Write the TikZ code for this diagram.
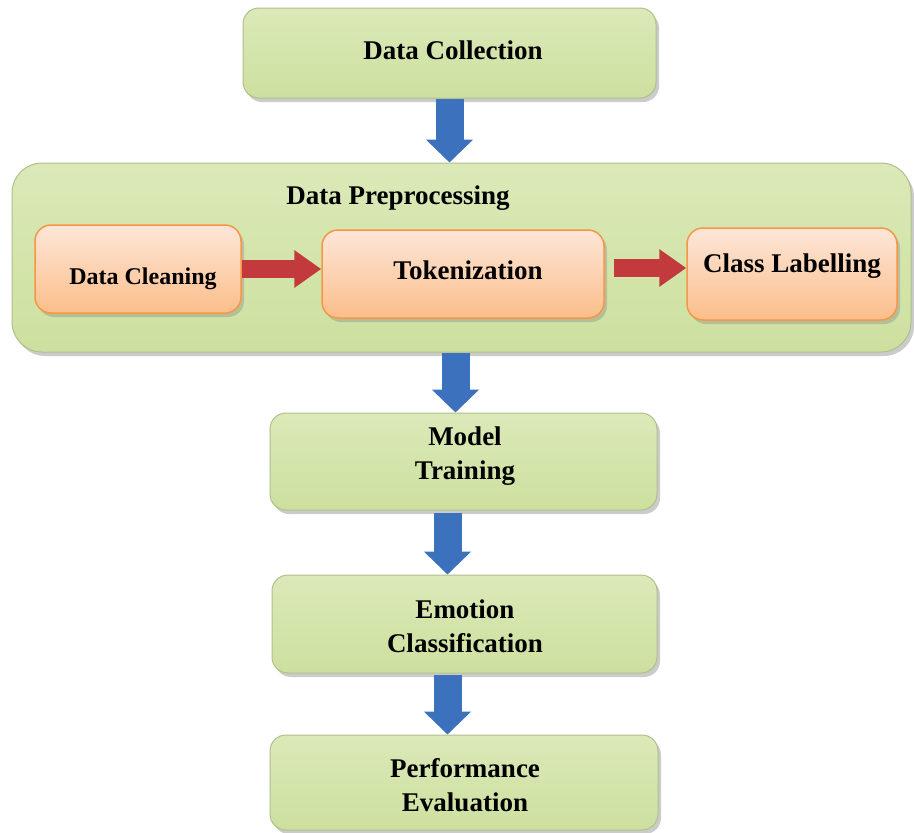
\documentclass[tikz,border=0pt]{standalone}
\usepackage{fontspec}
\setmainfont{Liberation Serif}
\usetikzlibrary{arrows.meta,shadows,calc}
\definecolor{gtop}{HTML}{DBE9B8}
\definecolor{gbot}{HTML}{CDE09F}
\definecolor{gline}{HTML}{AFBF8C}
\definecolor{otop}{HTML}{FDE6D8}
\definecolor{obot}{HTML}{FBBE8A}
\definecolor{oline}{HTML}{F79646}
\definecolor{barrow}{HTML}{3C71BD}
\definecolor{rarrow}{HTML}{C23A3C}
\tikzset{
  gbox/.style={rectangle, rounded corners=16pt, draw=gline, line width=1pt,
    top color=gtop, bottom color=gbot, inner sep=0pt,
    drop shadow={shadow xshift=3pt, shadow yshift=-4pt, fill=black!45, opacity=.45}},
  obox/.style={rectangle, rounded corners=16pt, draw=oline, line width=1.5pt,
    top color=otop, bottom color=obot, inner sep=0pt,
    drop shadow={shadow xshift=3pt, shadow yshift=-4pt, fill=black!45, opacity=.4}},
  txt/.style={font=\fontsize{27}{34}\selectfont\bfseries, align=center, inner sep=0pt},
  stxt/.style={font=\fontsize{24}{30}\selectfont\bfseries, align=center, inner sep=0pt},
  barr/.style={draw=barrow, line width=28pt, -{Triangle[width=46pt,length=23pt,fill=barrow]}},
  rarr/.style={draw=rarrow, line width=18pt, -{Triangle[width=36pt,length=27pt,fill=rarrow]}}
}
\begin{document}
\begin{tikzpicture}[x=1pt,y=-1pt]
\useasboundingbox (0,0) rectangle (914,833);
% boxes
\node[gbox, minimum width=413pt, minimum height=90pt] (dc) at (449.5,53) {};
\node[gbox, rounded corners=30pt, minimum width=899pt, minimum height=189pt] (pre) at (461.5,257.5) {};
\node[obox, minimum width=206pt, minimum height=88pt] (clean) at (138,269) {};
\node[obox, minimum width=282pt, minimum height=88pt] (tok) at (463,274) {};
\node[obox, minimum width=210pt, minimum height=92pt] (cls) at (792,274) {};
\node[gbox, minimum width=387pt, minimum height=97pt] (mt) at (463.5,461.5) {};
\node[gbox, minimum width=385pt, minimum height=98pt] (ec) at (464.5,624) {};
\node[gbox, minimum width=388pt, minimum height=95pt] (pe) at (464,782.5) {};
% texts
\node[txt] (dct) at (453,50) {Data Collection};
\node[txt] (pret) at (398,198) {Data Preprocessing};
\node[stxt] (cleant) at (143,279) {Data Cleaning};
\node[txt] (tokt) at (468,270) {Tokenization};
\node[txt] (clst) at (792,266) {Class Labelling};
\node[txt] (mtt) at (465,456) {Model\\Training};
\node[txt] (ect) at (465,626) {Emotion\\Classification};
\node[txt] (pet) at (465,785) {Performance\\Evaluation};
% arrow start points
\coordinate (a2s) at ($(mt.north |- pre.south)+(-8,0)$);
\coordinate (a3s) at ($(mt.south)+(-16,2)$);
\coordinate (a4s) at ($(ec.south)+(-17,1)$);
\coordinate (r2s) at ($(tok.east)+(9,-6)$);
% blue arrows
\draw[barr] (dc.south) -- (dc.south |- pre.north);
\draw[barr] (a2s) -- (a2s |- mt.north);
\draw[barr] (a3s) -- (a3s |- ec.north);
\draw[barr] (a4s) -- (a4s |- pe.north);
% red arrows
\draw[rarr] (clean.east) -- (clean.east -| tok.west);
\draw[rarr] (r2s) -- (r2s -| cls.west);
\end{tikzpicture}
\end{document}
